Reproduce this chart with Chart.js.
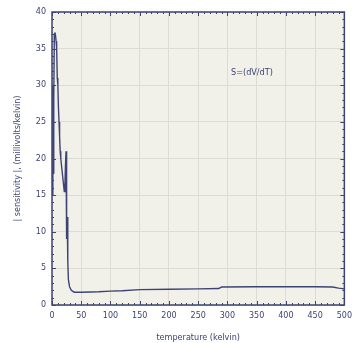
<!DOCTYPE html>
<html>
<head>
<meta charset="utf-8">
<script src="https://cdn.jsdelivr.net/npm/chart.js@4.4.1/dist/chart.umd.min.js"></script>
<style>
  html, body { margin: 0; padding: 0; background: #ffffff; }
  #wrap { width: 358px; height: 343px; }
</style>
</head>
<body>
<div id="wrap"><canvas id="c" width="358" height="343"></canvas></div>
<script>
// Temperature (kelvin) and |dV/dT| (millivolts/kelvin)
const temperature = [1, 1.5, 2, 3, 4, 5, 6, 7, 8, 9, 10, 11, 12, 13, 14, 15, 17, 19, 21, 22, 23, 24, 24.5, 25, 25.5, 26, 27, 28, 30, 33, 38, 50, 80, 100, 120, 150, 200, 250, 285, 290, 350, 400, 450, 480, 490, 500];
const sensitivity = [15, 30, 18, 28, 37, 37.2, 36.8, 36, 35, 31, 30, 27, 25, 23, 21, 20, 18.5, 17, 15.5, 16, 19, 21, 17, 15, 9, 12, 6, 3.5, 2.5, 2.0, 1.75, 1.75, 1.8, 1.9, 1.95, 2.1, 2.15, 2.2, 2.25, 2.45, 2.5, 2.5, 2.5, 2.45, 2.3, 2.2];
const xTicks = [0, 50, 100, 150, 200, 250, 300, 350, 400, 450, 500];
const yTicks = [0, 5, 10, 15, 20, 25, 30, 35, 40];
const noteText = 'S=(dV/dT)';
const notePos = { x: 342, y: 31.7 };

const ink = '#3d4373';
const font = { family: 'DejaVu Sans', size: 8 };
const titleFont = { family: 'DejaVu Sans Condensed', size: 9 };

const frame = {
  id: 'frame',
  beforeDraw(chart) {
    const { ctx, chartArea: a } = chart;
    ctx.save();
    ctx.fillStyle = '#f1f1ea';
    ctx.fillRect(a.left, a.top, a.right - a.left, a.bottom - a.top);
    ctx.restore();
  },
  afterDatasetsDraw(chart) {
    const { ctx, chartArea: a, scales: { x, y } } = chart;
    ctx.save();
    ctx.strokeStyle = ink;
    ctx.lineWidth = 1;
    ctx.beginPath();
    // inward ticks on all four sides
    for (let v = 0; v <= 500; v += 10) {
      const px = Math.round(x.getPixelForValue(v)) + 0.5;
      const len = v % 50 === 0 ? 4 : 2;
      ctx.moveTo(px, a.bottom); ctx.lineTo(px, a.bottom - len);
      ctx.moveTo(px, a.top); ctx.lineTo(px, a.top + len);
    }
    for (let v = 0; v <= 40; v += 1) {
      const py = Math.round(y.getPixelForValue(v)) + 0.5;
      const len = v % 5 === 0 ? 4 : 2;
      ctx.moveTo(a.left, py); ctx.lineTo(a.left + len, py);
      ctx.moveTo(a.right, py); ctx.lineTo(a.right - len, py);
    }
    ctx.stroke();
    ctx.lineWidth = 1.5;
    ctx.strokeRect(a.left, a.top, a.right - a.left, a.bottom - a.top);
    // annotation
    ctx.fillStyle = ink;
    ctx.font = '9px "DejaVu Sans Condensed"';
    ctx.textAlign = 'center';
    ctx.textBaseline = 'middle';
    ctx.fillText(noteText, x.getPixelForValue(notePos.x), y.getPixelForValue(notePos.y));
    ctx.restore();
  }
};

new Chart(document.getElementById('c'), {
  type: 'scatter',
  data: {
    datasets: [{
      data: temperature.map((t, i) => ({ x: t, y: sensitivity[i] })),
      showLine: true,
      borderColor: ink,
      borderWidth: 1.4,
      pointRadius: 0,
      tension: 0
    }]
  },
  options: {
    responsive: false,
    animation: false,
    layout: { padding: { top: 12, right: 11, left: 0, bottom: 0 } },
    plugins: { legend: { display: false }, tooltip: { enabled: false } },
    scales: {
      x: {
        type: 'linear', min: 0, max: 500,
        afterBuildTicks: s => { s.ticks = xTicks.map(v => ({ value: v })); },
        afterFit: s => { s.height = 38; },
        grid: { color: '#dcddd0', drawTicks: false },
        border: { display: false },
        ticks: { color: ink, font, padding: 6, maxRotation: 0 },
        title: { display: true, text: 'temperature (kelvin)', color: ink, font: titleFont, padding: { top: 6, bottom: 0 } }
      },
      y: {
        type: 'linear', min: 0, max: 40,
        afterBuildTicks: s => { s.ticks = yTicks.map(v => ({ value: v })); },
        afterFit: s => { s.width = 52; },
        grid: { color: '#dcddd0', drawTicks: false },
        border: { display: false },
        ticks: { color: ink, font, padding: 6 },
        title: { display: true, text: '| sensitivity |, (millivolts/kelvin)', color: ink, font: titleFont, padding: { top: 12, bottom: 0 } }
      }
    }
  },
  plugins: [frame]
});
</script>
</body>
</html>
